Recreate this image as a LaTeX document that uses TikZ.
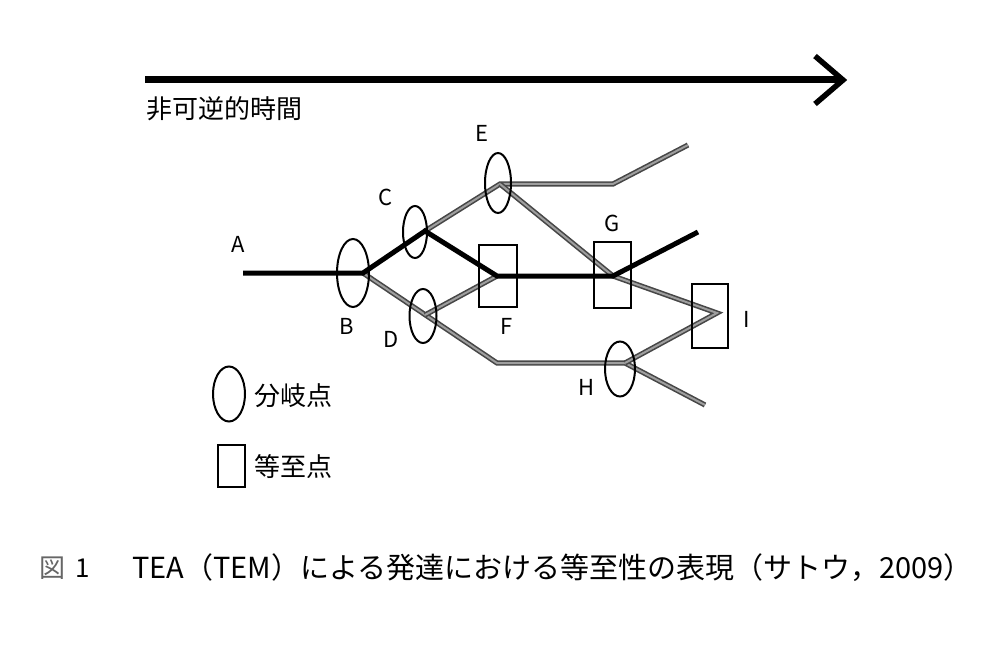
\documentclass[tikz,border=0pt]{standalone}
\usepackage{fontspec}
\setmainfont{Noto Sans CJK JP}
\usetikzlibrary{shapes.geometric}
\begin{document}
\begin{tikzpicture}[x=1pt,y=-1pt,
  br/.style={draw,ellipse,line width=2pt,inner sep=0pt,outer sep=0pt},
  eq/.style={draw,rectangle,line width=2pt,inner sep=0pt,outer sep=0pt},
  mainpath/.style={line width=5pt,line join=miter},
  sidepath/.style={draw=black!72,double=black!38,double distance=2pt,line width=1.6pt,line join=miter},
  lbl/.style={font=\fontsize{22}{22}\selectfont,inner sep=0pt},
  jtxt/.style={font=\fontsize{26}{26}\selectfont,inner sep=0pt,anchor=west}]
\useasboundingbox (0,0) rectangle (1004,647);

% time arrow
\coordinate (t0) at (145,80);
\coordinate (t1) at (841,80);
\coordinate (ta) at (815,56);
\coordinate (tb) at (815,104);
\draw[line width=7pt] (t0) -- (t1);
\draw[line width=5.5pt,line join=miter] (ta) -- (843,80) -- (tb);
\node[jtxt] (time) at (146,109) {非可逆的時間};

% branch / path points
\coordinate (a0) at (243,273);
\coordinate (pB) at (363,273);
\coordinate (pC) at (425,231);
\coordinate (pD) at (425,315);
\coordinate (pE) at (500,184);
\coordinate (pF) at (497,276);
\coordinate (pG) at (613,276);
\coordinate (pH) at (625,363);
\coordinate (pI) at (717,313);
\coordinate (low) at (497,363);
\coordinate (ebend) at (613,184);
\coordinate (eend) at (688,145);
\coordinate (gend) at (698,232);
\coordinate (hend) at (705,405);

% side (gray) paths
\draw[sidepath] (pB) -- (low) -- (pH) -- (hend);
\draw[sidepath] (pD) -- (pF);
\draw[sidepath] (pC) -- (pE) -- (ebend) -- (eend);
\draw[sidepath] (pE) -- (pG) -- (pI) -- (pH);

% main (black) path
\draw[mainpath] (a0) -- (pB) -- (pC) -- (pF) -- (pG) -- (gend);

% branching points
\node[br,minimum width=32pt,minimum height=68pt] (B) at (353,273) {};
\node[br,minimum width=24pt,minimum height=52pt] (C) at (415,232) {};
\node[br,minimum width=27pt,minimum height=54pt] (D) at (423,316) {};
\node[br,minimum width=26pt,minimum height=60pt] (E) at (498,183) {};
\node[br,minimum width=30pt,minimum height=55pt] (H) at (620,369) {};
% equifinality points
\node[eq,minimum width=38pt,minimum height=62pt] (F) at (498,276) {};
\node[eq,minimum width=37pt,minimum height=65pt] (G) at (612,275) {};
\node[eq,minimum width=36pt,minimum height=64pt] (I) at (710,316) {};

% labels
\node[lbl] (lA) at (238,244) {A};
\node[lbl] (lB) at (347,326) {B};
\node[lbl] (lC) at (386,197) {C};
\node[lbl] (lD) at (391,339) {D};
\node[lbl] (lE) at (482,133) {E};
\node[lbl] (lF) at (507,326) {F};
\node[lbl] (lG) at (612,223) {G};
\node[lbl] (lH) at (587,387) {H};
\node[lbl] (lI) at (747,319) {I};

% legend
\node[br,minimum width=32pt,minimum height=55pt] (legB) at (229,394) {};
\node[jtxt] (legBt) at (254,396) {分岐点};
\node[eq,minimum width=27pt,minimum height=42pt] (legE) at (231,466) {};
\node[jtxt] (legEt) at (254,467) {等至点};

% caption
\node[font=\fontsize{26}{26}\selectfont,inner sep=0pt,anchor=west] (fig) at (39,568) {\textcolor{black!60}{図}\hspace{10pt}1};
\node[font=\fontsize{29}{29}\selectfont,inner sep=0pt,anchor=west] (cap) at (132,568) {TEA（TEM）による発達における等至性の表現（サトウ，2009）};
\end{tikzpicture}
\end{document}
